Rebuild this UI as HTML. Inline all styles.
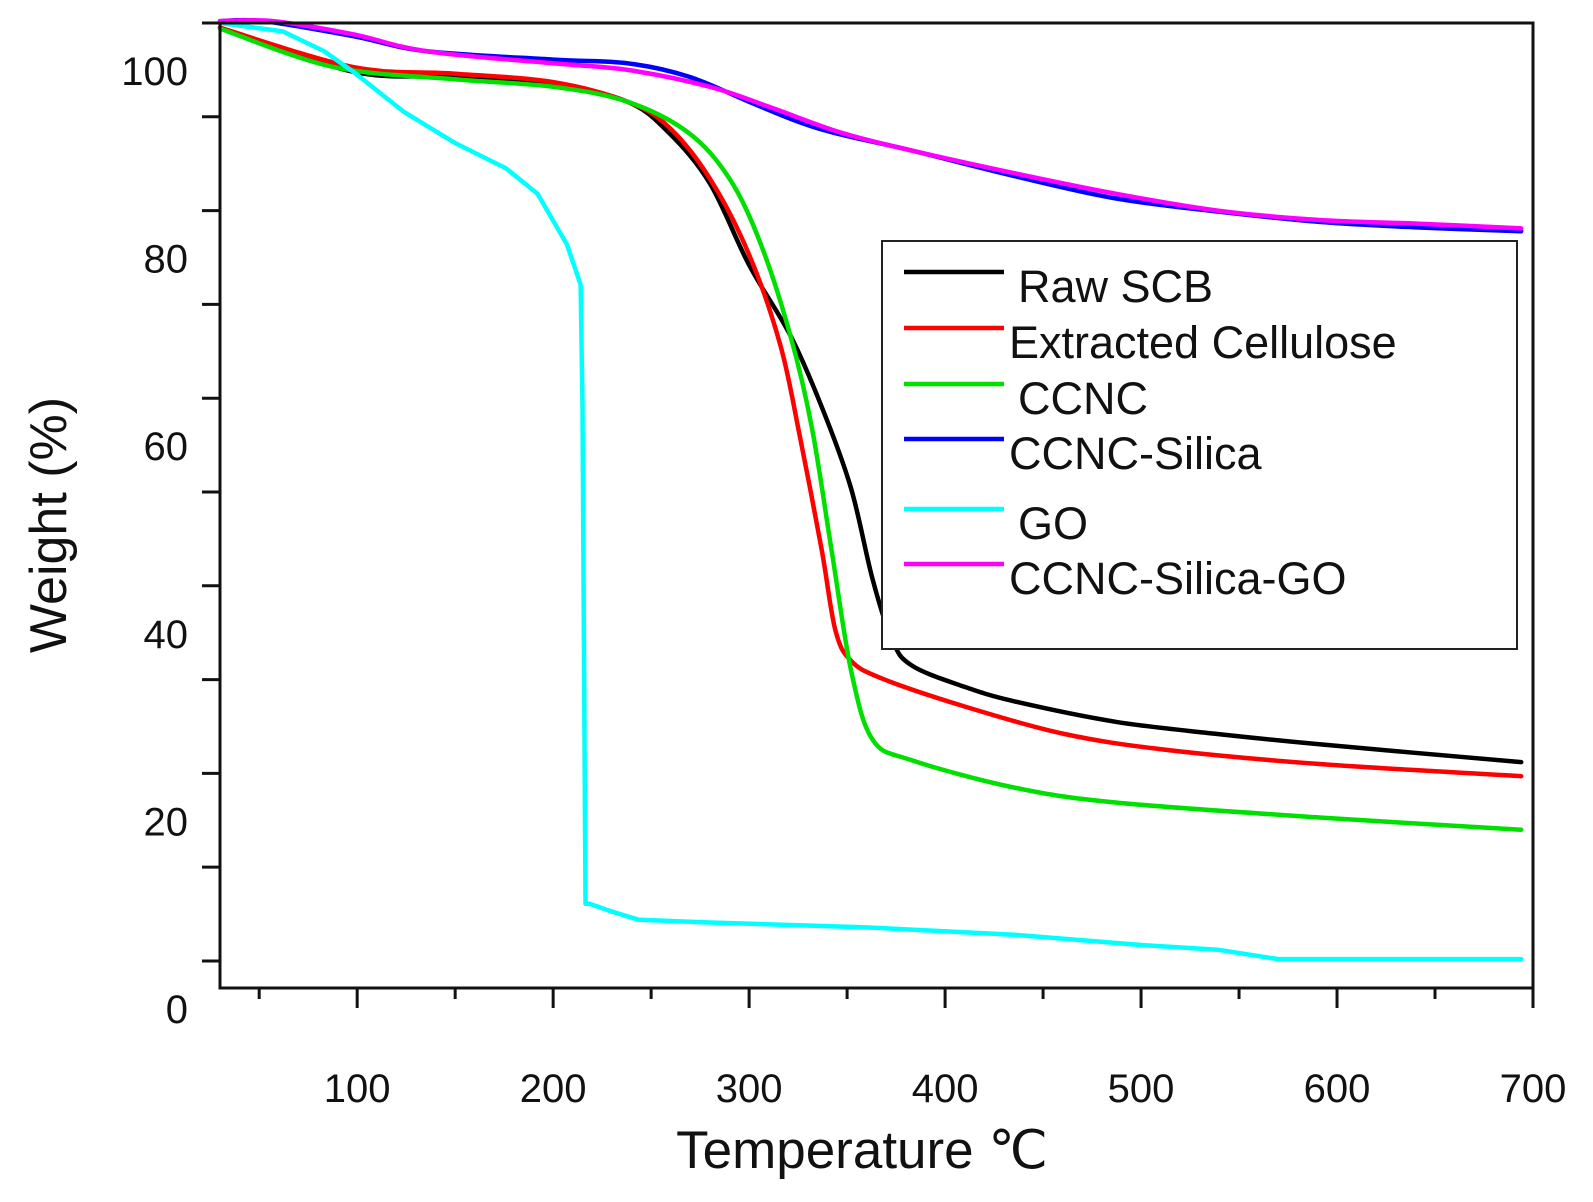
<!DOCTYPE html>
<html><head><meta charset="utf-8"><style>
html,body{margin:0;padding:0;background:#fff;}
svg text{font-family:"Liberation Sans",Arial,sans-serif;fill:#111;}
</style></head><body>
<svg id="chart" width="1593" height="1197" viewBox="0 0 1593 1197" xmlns="http://www.w3.org/2000/svg">
<g id="series"></g>
<g id="axes"></g>
<g id="legend"></g>
</svg>
<script>
const xTicks=[100,200,300,400,500,600,700];
const xMinor=[50,150,250,350,450,550,650];
const yTicks=[0,10,20,30,40,50,60,70,80,90,100];
const yLabels=[0,20,40,60,80,100];
const names=["Raw SCB","Extracted Cellulose","CCNC","CCNC-Silica","GO","CCNC-Silica-GO"];
const colors=["#000000","#ff0000","#00e000","#0000ff","#00ffff","#ff00ff"];
const rawT=[30,98,150,200,238,259,280,300,321,337,352,363,373,383,409,435,487,539,591,694];
const rawW=[99.5,94.8,94.3,93.5,91.6,88.3,82.9,74.2,66.7,59.1,50.4,40.7,34.2,31.5,29.3,27.7,25.5,24.2,23.1,21.2];
const celT=[30,98,150,200,238,259,280,300,316,326,337,344,352,368,409,461,513,591,694];
const celW=[99.5,95.3,94.6,93.7,91.6,88.9,83.4,75.3,65.6,55.8,43.9,35.3,32,30.1,27.2,24.2,22.5,21,19.7];
const ccT=[30,88,150,200,238,269,290,306,321,332,342,352,363,383,435,487,591,694];
const ccW=[99.4,95.3,94,93.2,91.6,88.3,83.4,76.4,66.7,56.9,43.9,31,23.6,21.4,18.5,16.9,15.3,14];
const siT=[30,52,98,135,200,238,269,300,326,347,383,435,487,539,591,642,694];
const siW=[100.2,100.2,98.6,97,96.1,95.7,94.3,91.6,89.4,88.1,86.4,83.7,81.3,79.9,78.8,78.2,77.8];
const goT=[30,62,83,98,124,150,176,192,207,214,215,216.5,218.6,228,243.5,280,358,435,500,539,570,694];
const goW=[100,99.1,97,94.8,90.5,87.2,84.5,81.8,76.4,72.1,59.1,6.1,6.1,5.4,4.4,4.1,3.6,2.8,1.7,1.2,0.2,0.2];
const sgT=[30,57,98,135,200,238,280,311,347,383,435,487,539,591,642,694];
const sgW=[100.2,100.2,98.8,97,95.7,95,93.2,91,88.3,86.4,84,81.8,80,79,78.6,78.1];
const seriesT=[rawT,celT,ccT,siT,goT,sgT];
const seriesW=[rawW,celW,ccW,siW,goW,sgW];
const smoothFlags=[true,true,true,true,false,true];

const L=220,R=1533,T=23,B=988,X0=30,X1=700,Y0=-2.88,Y1=100;
const xs=v=>L+(v-X0)/(X1-X0)*(R-L);
const ys=v=>B-(v-Y0)/(Y1-Y0)*(B-T);
const NS="http://www.w3.org/2000/svg";
function mk(tag,attrs,parent){const e=document.createElementNS(NS,tag);for(const k in attrs)e.setAttribute(k,attrs[k]);parent.appendChild(e);return e;}
const gS=document.getElementById('series'),gA=document.getElementById('axes'),gL=document.getElementById('legend');
const slug=s=>s.toLowerCase().replace(/[^a-z0-9]+/g,'-');
function pathFor(pts,smooth){
  if(!smooth) return pts.map((p,j)=>(j?'L':'M')+p[0].toFixed(1)+' '+p[1].toFixed(1)).join(' ');
  let d='M'+pts[0][0].toFixed(1)+' '+pts[0][1].toFixed(1);
  for(let i=0;i<pts.length-1;i++){
    const p0=pts[Math.max(i-1,0)],p1=pts[i],p2=pts[i+1],p3=pts[Math.min(i+2,pts.length-1)];
    const c1=[p1[0]+(p2[0]-p0[0])/6,p1[1]+(p2[1]-p0[1])/6];
    const c2=[p2[0]-(p3[0]-p1[0])/6,p2[1]-(p3[1]-p1[1])/6];
    d+=' C'+c1[0].toFixed(1)+' '+c1[1].toFixed(1)+' '+c2[0].toFixed(1)+' '+c2[1].toFixed(1)+' '+p2[0].toFixed(1)+' '+p2[1].toFixed(1);
  }
  return d;
}

seriesT.forEach((tArr,i)=>{
  const pts=tArr.map((t,j)=>[xs(t),ys(seriesW[i][j])]);
  const p=mk('path',{d:pathFor(pts,smoothFlags[i]),fill:'none',stroke:colors[i],'stroke-width':4.5,'stroke-linejoin':'round','stroke-linecap':'round'},gS);
  
  
});

const frame=mk('rect',{x:L,y:T,width:R-L,height:B-T,fill:'none',stroke:'#111','stroke-width':3},gA);



xTicks.forEach(v=>{
  const l=mk('line',{x1:xs(v),x2:xs(v),y1:B,y2:B+20,stroke:'#111','stroke-width':3},gA);
  
  
  const t=mk('text',{x:xs(v),y:1102,'text-anchor':'middle','font-size':40},gA);
  t.textContent=v;
  
  
});
xMinor.forEach(v=>{
  const l=mk('line',{x1:xs(v),x2:xs(v),y1:B,y2:B+11,stroke:'#111','stroke-width':3},gA);
  
  
});
yTicks.forEach(v=>{
  const l=mk('line',{x1:L-18,x2:L,y1:ys(v),y2:ys(v),stroke:'#111','stroke-width':3},gA);
  
  
});
yLabels.forEach(v=>{
  const t=mk('text',{x:188,y:ys(v)+48+14,'text-anchor':'end','font-size':40},gA);
  t.textContent=v;
  
  
});
const xt=mk('text',{x:862,y:1168,'text-anchor':'middle','font-size':53},gA);
xt.textContent='Temperature ℃';


const yt=mk('text',{x:0,y:0,'text-anchor':'middle','font-size':52,transform:'translate(66,525) rotate(-90)'},gA);
yt.textContent='Weight (%)';



const box=mk('rect',{x:882,y:241,width:635,height:408,fill:'#fff',stroke:'#222','stroke-width':2},gL);


const lineY=[272,328,384,439,509,564];
const textX=[1018,1009,1018,1009,1018,1009];
names.forEach((n,i)=>{
  const g=mk('g',{},gL);
  
  
  mk('line',{x1:904,x2:1004,y1:lineY[i],y2:lineY[i],stroke:colors[i],'stroke-width':4.5},g);
  const t=mk('text',{x:textX[i],y:lineY[i]+30,'font-size':45},g);
  t.textContent=n;
});
</script>
</body></html>
